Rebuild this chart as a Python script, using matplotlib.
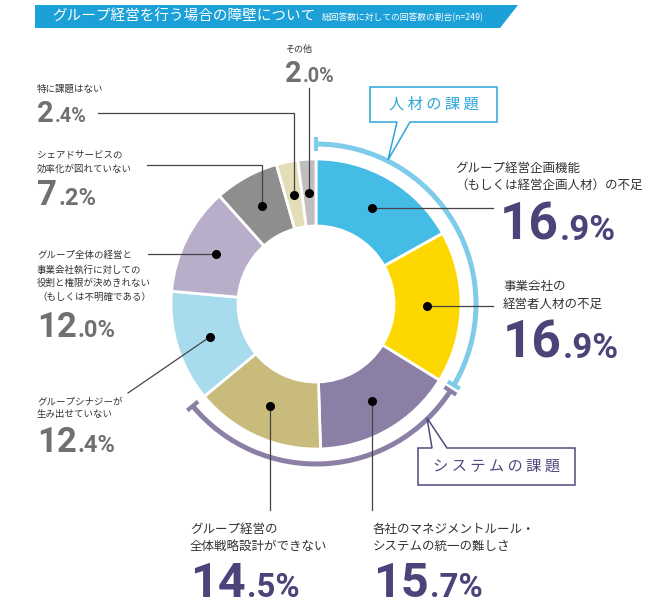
import numpy as np
import matplotlib.pyplot as plt
from matplotlib.patches import Arc, Polygon

plt.rcParams['font.family'] = ['Noto Sans CJK JP', 'DejaVu Sans']

# data
categories = [
    "グループ経営企画機能\n（もしくは経営企画人材）の不足",
    "事業会社の\n経営者人材の不足",
    "各社のマネジメントルール・\nシステムの統一の難しさ",
    "グループ経営の\n全体戦略設計ができない",
    "グループシナジーが\n生み出せていない",
    "グループ全体の経営と\n事業会社執行に対しての\n役割と権限が決めきれない\n（もしくは不明確である）",
    "シェアドサービスの\n効率化が図れていない",
    "特に課題はない",
    "その他",
]
values = [16.9, 16.9, 15.7, 14.5, 12.4, 12.0, 7.2, 2.4, 2.0]
colors = ["#45BCE5", "#FCD800", "#8B7FA6", "#C8BB7C", "#A8DBEE",
          "#B8AECA", "#8E8E8E", "#E3DDB8", "#BEBEBE"]
groups = [("人 材 の 課 題", 0, 1), ("シ ス テ ム の 課 題", 2, 3)]
title = "グループ経営を行う場合の障壁について"
subtitle = "総回答数に対しての回答数の割合(n=249)"

# layout (pixel coords, y down)
W, H = 650, 607
CX, CY, R_OUT, R_IN = 316, 304, 145, 78
R_ARC = 160
label_pos = [(455, 162), (503, 280), (373, 523), (190, 523), (37, 397),
             (37, 251), (37, 150), (37, 85), (285, 45)]
label_size = [9, 9, 9, 9, 6.8, 6.8, 6.8, 6.8, 6.5]
label_pitch = [17, 18, 17, 17, 13.5, 14, 15, 15, 15]
num_pos = [(500, 240), (503, 358), (373, 597), (190, 597), (37, 452),
           (37, 337), (37, 205), (37, 122), (285, 82)]
num_size = [37, 37, 35, 35, 25, 25, 25, 21, 21]
leaders = [("h", 493), ("h", 493), ("v", 510), ("v", 510), ("pt", (128, 393)),
           ("h", 148), ("hv", (147, 165)), ("hv", (98, 113)), ("v", 88)]
group_style = [
    dict(arc="#7FCBEA", box="#2BA6D9",
         poly=[(370, 87), (497, 87), (497, 122), (410, 122), (388, 160), (397, 122), (370, 122)]),
    dict(arc="#8B7FA6", box="#504A7E",
         poly=[(418, 448), (432, 448), (427, 418), (447, 448), (575, 448), (575, 485), (418, 485)]),
]
PURPLE, GRAY = "#4A4478", "#707070"
NUM_FONT = ['Roboto', 'DejaVu Sans']

fig = plt.figure(figsize=(6.5, 6.07), dpi=100)
ax = fig.add_axes([0, 0, 1, 1])

wedges, _ = ax.pie(values, colors=colors, radius=R_OUT, center=(CX, CY),
                   startangle=-90, counterclock=True,
                   wedgeprops=dict(width=R_OUT - R_IN, edgecolor="white", linewidth=2))
ax.set_xlim(0, W)
ax.set_ylim(H, 0)
ax.set_aspect("equal")
ax.axis("off")


def polar(r, deg):
    a = np.deg2rad(deg)
    return CX + r * np.cos(a), CY + r * np.sin(a)


# header banner
ax.add_patch(Polygon([(35, 5), (518, 5), (500, 28), (35, 28)], closed=True,
                     facecolor="#1BA0D8", edgecolor="none"))
ax.text(52, 17, title, color="white", fontsize=10.5, va="center")
ax.text(322, 17.5, subtitle, color="white", fontsize=6.3, va="center")

# group arcs and callouts
for (name, i0, i1), st in zip(groups, group_style):
    a0 = wedges[i0].theta1 + (0 if i0 == 0 else 1.2)
    a1 = wedges[i1].theta2 - (1.2 if i0 == 0 else 0)
    ax.add_patch(Arc((CX, CY), 2 * R_ARC, 2 * R_ARC, theta1=a0, theta2=a1,
                     color=st["arc"], lw=3.6))
    for a in (a0, a1):
        p, q = polar(R_ARC - 7, a), polar(R_ARC + 7, a)
        ax.plot([p[0], q[0]], [p[1], q[1]], color=st["arc"], lw=3, solid_capstyle="butt")
    ax.add_patch(Polygon(st["poly"], closed=True, facecolor="white",
                         edgecolor=st["box"], lw=1.1))
    xs = [v[0] for v in st["poly"]]
    ys = [v[1] for v in st["poly"]]
    bx = (min(xs) + max(xs)) / 2
    by = (max(ys) + sorted(set(ys))[-2]) / 2 if i0 else (min(ys) + sorted(set(ys))[1]) / 2
    ax.text(bx, by, name, color=st["box"], fontsize=11, ha="center", va="center")

# dots, leaders, labels
renderer = fig.canvas.get_renderer()
inv = ax.transData.inverted()
r_mid = (R_OUT + R_IN) / 2
for i, w in enumerate(wedges):
    dx, dy = polar(r_mid, (w.theta1 + w.theta2) / 2)
    kind, p = leaders[i]
    if kind == "h":
        path = [(p, dy), (dx, dy)]
    elif kind == "v":
        path = [(dx, p), (dx, dy)]
    elif kind == "hv":
        path = [p, (dx, p[1]), (dx, dy)]
    else:
        path = [p, (dx, dy)]
    ax.plot([v[0] for v in path], [v[1] for v in path], color="#444444", lw=0.9)
    ax.plot(dx, dy, "o", color="black", ms=5.5)

    lx, ly = label_pos[i]
    for k, line in enumerate(categories[i].split("\n")):
        ax.text(lx, ly + k * label_pitch[i], line, fontsize=label_size[i],
                color="#333333", va="top")

    nx, ny = num_pos[i]
    whole, frac = f"{values[i]:.1f}".split(".")
    col = PURPLE if i < 4 else GRAY
    t = ax.text(nx, ny, whole, fontsize=num_size[i], color=col, family=NUM_FONT,
                fontweight="bold", va="baseline")
    bb = t.get_window_extent(renderer)
    x_end = inv.transform((bb.x1, bb.y0))[0]
    ax.text(x_end + 1, ny, "." + frac + "%", fontsize=num_size[i] * 0.68, color=col,
            family=NUM_FONT, fontweight="bold", va="baseline")

fig.savefig("out.png", dpi=100)
